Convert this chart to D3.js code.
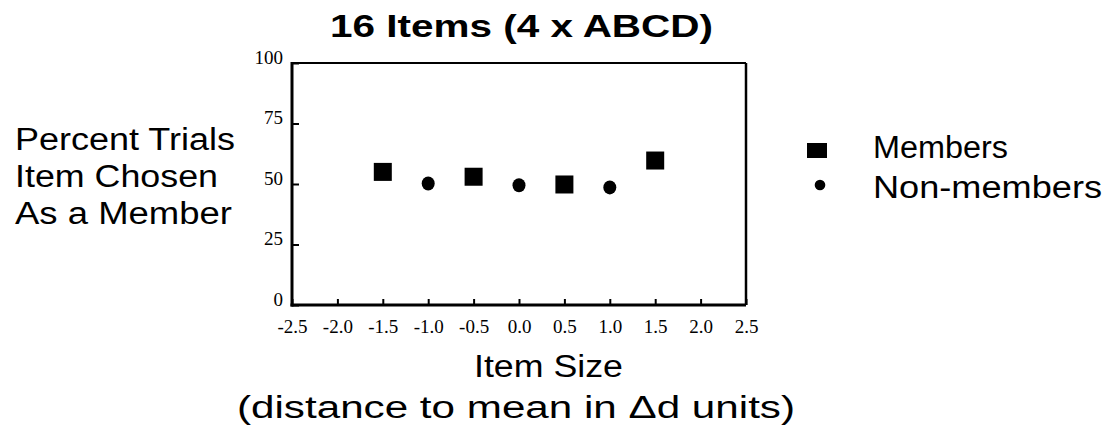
<!DOCTYPE html>
<html>
<head>
<meta charset="utf-8">
<script src="https://cdn.jsdelivr.net/npm/d3@7"></script>
<style>
  body { margin: 0; background: #fff; }
  svg { display: block; }
  .sans { font-family: "Liberation Sans", Arial, Helvetica, sans-serif; }
  .tick text { font-family: "Liberation Serif", "Times New Roman", serif; font-size: 19px; fill: #000; }
  .tick line { stroke: #000; stroke-width: 2; }
</style>
</head>
<body>
<script>
// item size (distance to mean in delta-d units)
var memberX = [-1.5, -0.5, 0.5, 1.5];
var memberY = [55.0, 53.0, 49.8, 59.7];
var nonMemberX = [-1.0, 0.0, 1.0];
var nonMemberY = [50.2, 49.5, 48.6];

var xTicks = [-2.5, -2.0, -1.5, -1.0, -0.5, 0.0, 0.5, 1.0, 1.5, 2.0, 2.5];
var xTickLabels = ["-2.5", "-2.0", "-1.5", "-1.0", "-0.5", "0.0", "0.5", "1.0", "1.5", "2.0", "2.5"];
var yTicks = [0, 25, 50, 75, 100];

var W = 1105, H = 432;
var margin = { top: 63, right: 359, bottom: 127, left: 292 },
  width = W - margin.left - margin.right,
  height = H - margin.top - margin.bottom;

var svg = d3
  .select("body")
  .append("svg")
  .attr("width", W)
  .attr("height", H);

var g = svg
  .append("g")
  .attr("transform", "translate(" + margin.left + "," + margin.top + ")");

var x = d3.scaleLinear().domain([-2.5, 2.5]).range([0, width]);
var y = d3.scaleLinear().domain([0, 100]).range([height, 0]);

var xAxis = d3
  .axisBottom(x)
  .tickValues(xTicks)
  .tickFormat(function(d, i) { return xTickLabels[i]; })
  .tickSizeInner(-6)
  .tickSizeOuter(0)
  .tickPadding(15);

var yAxis = d3
  .axisLeft(y)
  .tickValues(yTicks)
  .tickSizeInner(-7)
  .tickSizeOuter(0)
  .tickPadding(9);

g.append("g")
  .attr("class", "x axis")
  .attr("transform", "translate(0," + height + ")")
  .call(xAxis)
  .call(function(s) { s.select(".domain").remove(); });

g.append("g")
  .attr("class", "y axis")
  .call(yAxis)
  .call(function(s) {
    s.select(".domain").remove();
    s.selectAll("text").attr("dy", "0.02em");
  });

// frame, left and bottom a bit heavier
g.append("line").attr("x1", 0).attr("x2", width).attr("y1", 0).attr("y2", 0)
  .attr("stroke", "#000").attr("stroke-width", 2);
g.append("line").attr("x1", width).attr("x2", width).attr("y1", 0).attr("y2", height)
  .attr("stroke", "#000").attr("stroke-width", 2.5);
g.append("line").attr("x1", 0).attr("x2", 0).attr("y1", -1).attr("y2", height + 1.5)
  .attr("stroke", "#000").attr("stroke-width", 3);
g.append("line").attr("x1", -1.5).attr("x2", width).attr("y1", height).attr("y2", height)
  .attr("stroke", "#000").attr("stroke-width", 3);

var sq = 18;
g.selectAll(".member")
  .data(memberX)
  .enter()
  .append("rect")
  .attr("class", "member")
  .attr("x", function(d) { return x(d) - sq / 2; })
  .attr("y", function(d, i) { return y(memberY[i]) - sq / 2; })
  .attr("width", sq)
  .attr("height", sq)
  .attr("fill", "#000");

g.selectAll(".nonmember")
  .data(nonMemberX)
  .enter()
  .append("ellipse")
  .attr("class", "nonmember")
  .attr("cx", function(d) { return x(d); })
  .attr("cy", function(d, i) { return y(nonMemberY[i]); })
  .attr("rx", 6.5)
  .attr("ry", 7)
  .attr("fill", "#000");

// title
svg.append("text")
  .attr("class", "sans")
  .attr("x", 330)
  .attr("y", 37)
  .attr("font-size", 32)
  .attr("font-weight", "bold")
  .attr("textLength", 383)
  .attr("lengthAdjust", "spacingAndGlyphs")
  .text("16 Items (4 x ABCD)");

// y title
var yTitle = [
  { t: "Percent Trials", w: 220, b: 150 },
  { t: "Item Chosen", w: 203, b: 187 },
  { t: "As a Member", w: 217, b: 224 }
];
svg.selectAll(".ytitle")
  .data(yTitle)
  .enter()
  .append("text")
  .attr("class", "sans ytitle")
  .attr("x", 15)
  .attr("y", function(d) { return d.b; })
  .attr("font-size", 31)
  .attr("textLength", function(d) { return d.w; })
  .attr("lengthAdjust", "spacingAndGlyphs")
  .text(function(d) { return d.t; });

// x title
svg.append("text")
  .attr("class", "sans")
  .attr("x", 474)
  .attr("y", 377)
  .attr("font-size", 31)
  .attr("textLength", 149)
  .attr("lengthAdjust", "spacingAndGlyphs")
  .text("Item Size");

svg.append("text")
  .attr("class", "sans")
  .attr("x", 237)
  .attr("y", 418)
  .attr("font-size", 31)
  .attr("textLength", 558)
  .attr("lengthAdjust", "spacingAndGlyphs")
  .text("(distance to mean in \u0394d units)");

// legend
var legend = svg.append("g").attr("class", "legend");
legend.append("rect")
  .attr("x", 807).attr("y", 143)
  .attr("width", 20).attr("height", 15)
  .attr("fill", "#000");
legend.append("circle")
  .attr("cx", 820).attr("cy", 185).attr("r", 5.3)
  .attr("fill", "#000");
legend.append("text")
  .attr("class", "sans")
  .attr("x", 873).attr("y", 158)
  .attr("font-size", 31)
  .attr("textLength", 135)
  .attr("lengthAdjust", "spacingAndGlyphs")
  .text("Members");
legend.append("text")
  .attr("class", "sans")
  .attr("x", 873).attr("y", 198)
  .attr("font-size", 31)
  .attr("textLength", 229)
  .attr("lengthAdjust", "spacingAndGlyphs")
  .text("Non-members");
</script>
</body>
</html>
